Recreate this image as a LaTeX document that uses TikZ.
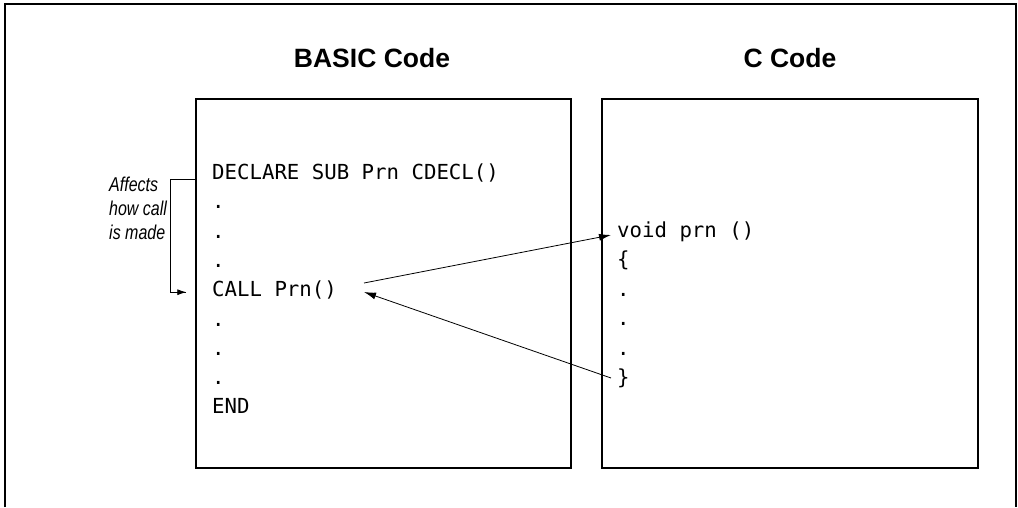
\documentclass[tikz,border=0pt]{standalone}
\usepackage{fontspec}
\setmainfont{Liberation Sans}
\newfontfamily\codefont{DejaVu Sans Mono}
\newfontfamily\notefont[FakeStretch=0.8]{Liberation Sans}
\usetikzlibrary{arrows.meta}
\tikzset{
  frame/.style={line width=1.4pt},
  codebox/.style={draw, line width=1.4pt, minimum width=375pt, minimum height=369pt, inner sep=0pt},
  codeline/.style={anchor=base west, inner sep=0pt, font=\codefont\fontsize{20.7}{24}\selectfont},
  title/.style={font=\bfseries\fontsize{26.5}{30}\selectfont, inner sep=0pt},
  note/.style={font=\notefont\itshape\fontsize{20}{24}\selectfont, align=left, anchor=north west, inner sep=0pt},
  conn/.style={line width=0.8pt, -{Latex[length=12pt,width=7pt]}},
  brk/.style={line width=0.8pt},
}
\begin{document}
\begin{tikzpicture}[x=1pt,y=-1pt]
\useasboundingbox (0,0) rectangle (1018,507);
\draw[frame] (5,507) -- (5,4) -- (1016,4) -- (1016,507);
\node[codebox] (bbox) at (383.5,283.5) {};
\node[codebox, minimum width=376pt] (cbox) at (790,283.5) {};
\node[title] (btitle) at (372,58) {BASIC Code};
\node[title] (ctitle) at (790,58) {C Code};
% BASIC code
\node[codeline] (b0) at (212,179.5) {DECLARE SUB Prn CDECL()};
\node[codeline] (b1) at (212,208.8) {.};
\node[codeline] (b2) at (212,238.1) {.};
\node[codeline] (b3) at (212,267.4) {.};
\node[codeline] (b4) at (212,296.7) {CALL Prn()};
\node[codeline] (b5) at (212,326.0) {.};
\node[codeline] (b6) at (212,355.3) {.};
\node[codeline] (b7) at (212,384.6) {.};
\node[codeline] (b8) at (212,413.9) {END};
% C code
\node[codeline] (c0) at (617,237.5) {void prn ()};
\node[codeline] (c1) at (617,266.9) {\{};
\node[codeline] (c2) at (617,296.3) {.};
\node[codeline] (c3) at (617,325.7) {.};
\node[codeline] (c4) at (617,355.1) {.};
\node[codeline] (c5) at (617,384.5) {\}};
% note
\node[note] (aff) at (109,177) {Affects\\how call\\is made};
% connectors
\coordinate (callout) at ([xshift=27pt,yshift=13.7pt]b4.base east);
\coordinate (callin) at ([xshift=27pt,yshift=4.7pt]b4.base east);
\coordinate (voidin) at ([xshift=-6pt,yshift=2.5pt]c0.base west);
\coordinate (braceout) at ([xshift=-6pt,yshift=6.5pt]c5.base west);
\draw[conn] (callout) -- (voidin);
\draw[conn] (braceout) -- (callin);
\coordinate (k0) at ([yshift=0.5pt]bbox.west |- b0.base);
\coordinate (k1) at ([xshift=-9pt,yshift=4.5pt]bbox.west |- b4.base);
\draw[brk] (k0) -- ++(-25,0) |- (k1);
\draw[brk, -{Latex[length=9pt,width=6pt]}] ([xshift=-15pt]k1) -- (k1);
\end{tikzpicture}
\end{document}
